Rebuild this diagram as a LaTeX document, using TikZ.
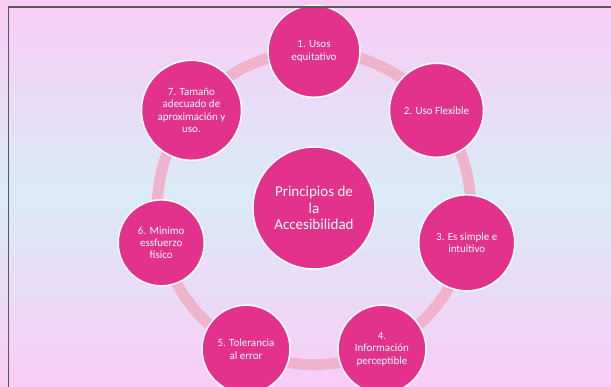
\documentclass[tikz,border=0pt]{standalone}
\usepackage{fontspec}
\setmainfont{Carlito}
\definecolor{petal}{HTML}{E2328C}
\definecolor{ringpink}{HTML}{EFB3CB}
\definecolor{bgpink}{HTML}{F9CCF6}
\definecolor{bgblue}{HTML}{DAEBF6}
\tikzstyle{every node}=[font=\fontsize{11}{12.3}\selectfont, text=white]
\tikzstyle{principio} = [circle, minimum size=88pt, inner sep=0pt, align=center, draw=white, line width=1.5pt, fill=petal]
\tikzstyle{centro} = [principio, minimum size=122pt, font=\fontsize{15}{16.7}\selectfont]
\tikzstyle{ring} = [line width=11pt, draw=ringpink]
\tikzstyle{marco} = [draw=black!65, line width=1.5pt]

\begin{document}
\begin{tikzpicture}[x=1pt, y=1pt]
        % fondo
        \shade [top color=bgpink, bottom color=bgpink, middle color=bgblue] (-314,-179) rectangle (297,208);
        \useasboundingbox (-314,-179) rectangle (297,208);
        \coordinate (o) at (0,0);
        \draw [ring] (o) circle (156.7);

        \node (cen) [centro] at (o) {Principios de\\la\\Accesibilidad};
        \node (p1) [principio, minimum size=92pt] at (90:156.7) {1. Usos\\equitativo};
        \node (p2) [principio, minimum size=94pt] at ({90-360/7}:156.7) {2. Uso Flexible};
        \node (p3) [principio, minimum size=96pt] at ({90-2*360/7}:156.7) {3. Es simple e\\intuitivo};
        \node (p4) [principio] at ({90-3*360/7}:156.7) {4.\\Información\\perceptible};
        \node (p5) [principio] at ({90-4*360/7}:156.7) {5. Tolerancia\\al error};
        \node (p6) [principio, minimum size=86pt] at ({90-5*360/7}:156.7) {6. Minimo\\essfuerzo\\físico};
        \node (p7) [principio, minimum size=100pt] at ({90-6*360/7}:156.7) {7. Tamaño\\adecuado de\\aproximación y\\uso.};

        % marco
        \draw [marco] (-305.4,-179) |- (297,201);
      \end{tikzpicture}
\end{document}
